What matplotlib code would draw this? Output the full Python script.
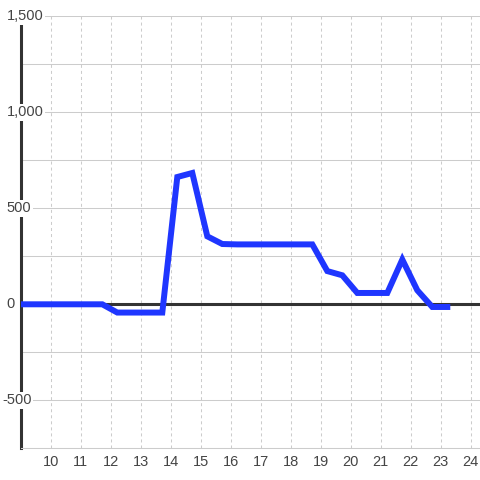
import matplotlib
matplotlib.use('Agg')
import matplotlib.pyplot as plt

# ---- 数据 ----
hours = [8.72, 9.22, 9.72, 10.22, 10.72, 11.22, 11.72, 12.22, 12.72, 13.22,
         13.72, 14.22, 14.72, 15.22, 15.72, 16.22, 16.72, 17.22, 17.72, 18.22,
         18.72, 19.22, 19.72, 20.22, 20.72, 21.22, 21.72, 22.22, 22.72, 23.22]
values = [0, 0, 0, 0, 0, 0, 0, -43, -43, -43,
          -43, 663, 684, 354, 314, 312, 312, 312, 312, 312,
          312, 173, 151, 59, 59, 59, 233, 73, -14, -14]

x_ticks = list(range(10, 25))
y_grid = [-750, -500, -250, 250, 500, 750, 1000, 1250, 1500]
y_labels = {1500: '1,500', 1000: '1,000', 500: '500', 0: '0', -500: '-500'}

plt.rcParams['font.family'] = ['Liberation Sans', 'DejaVu Sans']

W = H = 480
fig = plt.figure(figsize=(4.8, 4.8), dpi=100)
fig.patch.set_facecolor('white')
left_px, top_px, bot_px = 20.7, 16.3, 448.3
ax = fig.add_axes([left_px / W, (H - bot_px) / H,
                   (W - left_px) / W, (bot_px - top_px) / H])
ax.set_xlim(9, 24.31)
ax.set_ylim(-750, 1500)

# 网格
for y in y_grid:
    ax.axhline(y, color='#cccccc', lw=0.75, zorder=1)
for x in x_ticks:
    ax.axvline(x, color='#cccccc', lw=0.75, linestyle=(0, (2.9, 2.9)), zorder=1)
ax.axhline(0, color='#333333', lw=2.2, zorder=3)

# 折线
ax.plot(hours, values, color='#1f36ff', lw=4.3, solid_joinstyle='miter',
        solid_capstyle='projecting', zorder=4)

# 坐标轴样式
for s in ['top', 'right']:
    ax.spines[s].set_visible(False)
ax.spines['bottom'].set_color('#cccccc')
ax.spines['bottom'].set_linewidth(0.75)
ax.spines['left'].set_color('#333333')
ax.spines['left'].set_linewidth(2.2)

ax.set_xticks(x_ticks)
ax.set_xticklabels([str(t) for t in x_ticks])
ax.tick_params(axis='x', length=0, pad=5, labelsize=10.5, labelcolor='#444444')
ax.set_yticks([])

# y 轴标签放在图内, 白底遮住轴线
ax_w = W - left_px
for val, lab in y_labels.items():
    px = 2.0 if lab.startswith('-') else 6.5
    ax.text((px - left_px) / ax_w, val, lab, transform=ax.get_yaxis_transform(),
            ha='left', va='center', fontsize=10.5, color='#444444',
            bbox=dict(facecolor='white', edgecolor='none', pad=1.2),
            clip_on=False, zorder=5)

fig.savefig('out.png', dpi=100, facecolor='white')
plt.close(fig)
